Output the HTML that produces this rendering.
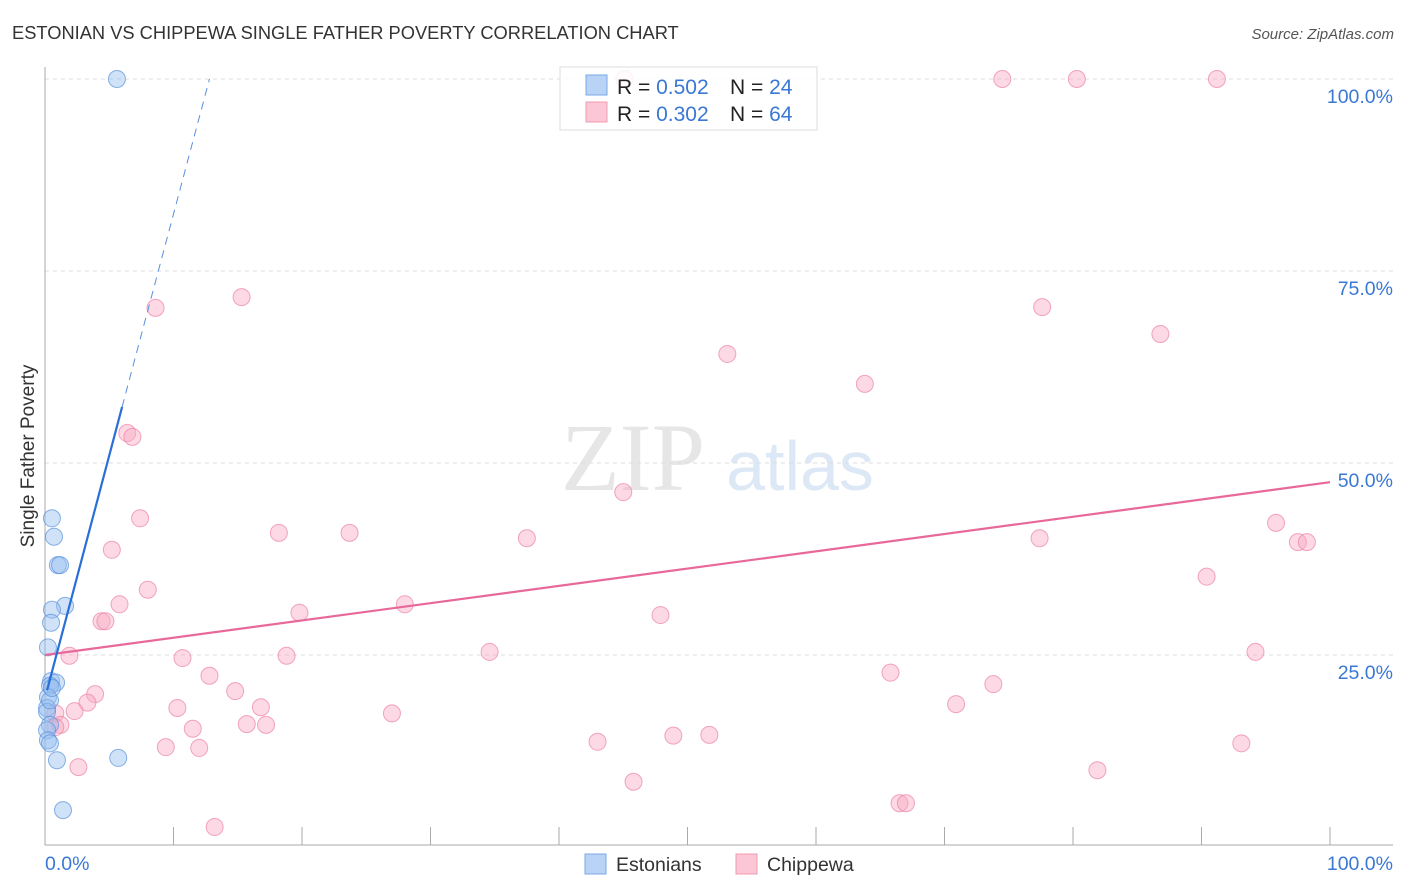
<!DOCTYPE html>
<html><head><meta charset="utf-8"><style>
body{margin:0;background:#fff;font-family:"Liberation Sans",sans-serif;}
svg{display:block}
</style></head><body>
<svg id="c" width="1406" height="892" xmlns="http://www.w3.org/2000/svg">
<text x="12" y="39" font-size="18.3" fill="#333">ESTONIAN VS CHIPPEWA SINGLE FATHER POVERTY CORRELATION CHART</text>
<text x="1394" y="39" font-size="15" fill="#555" font-style="italic" text-anchor="end">Source: ZipAtlas.com</text>
<text x="633" y="490" font-size="96" fill="#e6e6e6" text-anchor="middle" font-family="Liberation Serif,serif">ZIP</text>
<text x="800" y="490" font-size="70" fill="#dde8f6" text-anchor="middle">atlas</text>
<g id="grid"></g>
<g id="axes"></g>
<g id="pts"></g>
<g id="lines"></g>
<text transform="translate(34,456) rotate(-90)" font-size="19" fill="#333" text-anchor="middle">Single Father Poverty</text>
<g>
<rect x="560" y="67" width="257" height="63" fill="#fff" fill-opacity="0.85" stroke="#ddd"/>
<rect x="586" y="75" width="21" height="20" fill="#b8d3f5" stroke="#7aa7e6"/>
<rect x="586" y="102" width="21" height="20" fill="#fbc7d6" stroke="#f09ab3"/>
<text x="617" y="94" font-size="21" fill="#222">R = <tspan fill="#3a78d4">0.502</tspan></text>
<text x="730" y="94" font-size="21" fill="#222">N = <tspan fill="#3a78d4">24</tspan></text>
<text x="617" y="121" font-size="21" fill="#222">R = <tspan fill="#3a78d4">0.302</tspan></text>
<text x="730" y="121" font-size="21" fill="#222">N = <tspan fill="#3a78d4">64</tspan></text>
</g>
<g>
<rect x="585" y="854" width="21" height="20" fill="#b8d3f5" stroke="#7aa7e6"/>
<text x="616" y="871" font-size="19.5" fill="#333">Estonians</text>
<rect x="736" y="854" width="21" height="20" fill="#fbc7d6" stroke="#f09ab3"/>
<text x="767" y="871" font-size="19.5" fill="#333">Chippewa</text>
</g>
</svg>
<script>
const blueX=[5.6,0.54,0.7,1.0,1.17,1.56,0.54,0.47,0.23,0.47,0.86,0.39,0.23,0.16,0.16,0.39,0.16,0.23,0.39,0.93,5.7,1.4,0.39,0.54];
const blueY=[100,42.8,40.4,36.7,36.7,31.4,30.9,29.2,26.0,21.6,21.4,21.0,19.5,18.1,17.6,15.9,15.2,13.9,13.5,11.3,11.6,4.8,19.1,20.7];
const pinkX=[45.1,74.5,80.3,91.2,15.3,8.6,77.6,86.8,53.1,63.8,6.4,6.8,45.0,7.4,18.2,23.7,37.5,77.4,95.8,97.5,98.2,5.2,8.0,90.4,5.8,28.0,19.8,4.4,4.7,47.9,1.9,10.7,18.8,34.6,94.2,65.8,12.8,73.8,3.9,14.8,3.3,10.3,2.3,16.8,70.9,27.0,0.8,15.7,17.2,11.5,1.2,0.8,9.4,12.0,43.0,48.9,51.7,93.1,2.6,81.9,45.8,66.5,67.0,13.2];
const pinkY=[100,100,100,100,71.6,70.2,70.3,66.8,64.2,60.3,53.9,53.4,46.2,42.8,40.9,40.9,40.2,40.2,42.2,39.7,39.7,38.7,33.5,35.2,31.6,31.6,30.5,29.4,29.4,30.2,24.9,24.6,24.9,25.4,25.4,22.7,22.3,21.2,19.9,20.3,18.8,18.1,17.7,18.2,18.6,17.4,17.4,16.0,15.9,15.4,15.9,15.6,13.0,12.9,13.7,14.5,14.6,13.5,10.4,10.0,8.5,5.7,5.7,2.6];
const yTicks=[25,50,75,100];
const yTickLabels=["25.0%","50.0%","75.0%","100.0%"];
const xTicks=[0,10,20,30,40,50,60,70,80,90,100];
const pinkTrend=[0,25,100,47.5];
const blueTrend=[0.16,20.4,6.0,57.3,12.8,100];
const NS="http://www.w3.org/2000/svg";
const X=v=>45+v*12.85, Y=v=>847-v*7.68;
function mk(p,t,a){const e=document.createElementNS(NS,t);for(const k in a)e.setAttribute(k,a[k]);p.appendChild(e);return e;}
const grid=document.getElementById('grid'),axes=document.getElementById('axes'),pts=document.getElementById('pts'),lines=document.getElementById('lines');
yTicks.forEach((v,i)=>{
 const l=mk(grid,'line',{x1:45,x2:1393,y1:Y(v),y2:Y(v),stroke:'#ddd','stroke-dasharray':'4,4'});
 
 
 const t=mk(axes,'text',{x:1393,y:Y(v)+24,'font-size':19.5,fill:'#3a78d4','text-anchor':'end'});
 t.textContent=yTickLabels[i];
 
 
});
mk(axes,'line',{x1:45,x2:45,y1:67,y2:845,stroke:'#aaa'});
mk(axes,'line',{x1:45,x2:1393,y1:845,y2:845,stroke:'#aaa'});
xTicks.forEach(v=>{const t=mk(axes,'line',{x1:X(v),x2:X(v),y1:827,y2:845,stroke:'#aaa'});
 
 });
const xl=mk(axes,'text',{x:45,y:870,'font-size':19.5,fill:'#3a78d4'});xl.textContent='0.0%';


const xr=mk(axes,'text',{x:1393,y:870,'font-size':19.5,fill:'#3a78d4','text-anchor':'end'});xr.textContent='100.0%';


pinkX.forEach((v,i)=>{const c=mk(pts,'circle',{cx:X(v),cy:Y(pinkY[i]),r:8.5,fill:'rgba(248,170,195,0.45)',stroke:'rgba(236,130,165,0.7)'});
 
 });
blueX.forEach((v,i)=>{const c=mk(pts,'circle',{cx:X(v),cy:Y(blueY[i]),r:8.5,fill:'rgba(150,190,240,0.45)',stroke:'rgba(90,145,220,0.7)'});
 
 });
const pl=mk(lines,'line',{x1:X(pinkTrend[0]),y1:Y(pinkTrend[1]),x2:X(pinkTrend[2]),y2:Y(pinkTrend[3]),stroke:'#e8689a','stroke-width':2.2});


const bl=mk(lines,'line',{x1:X(blueTrend[0]),y1:Y(blueTrend[1]),x2:X(blueTrend[2]),y2:Y(blueTrend[3]),stroke:'#2a6fd8','stroke-width':2.2});


const bd=mk(lines,'line',{x1:X(blueTrend[2]),y1:Y(blueTrend[3]),x2:X(blueTrend[4]),y2:Y(blueTrend[5]),stroke:'#5a8fdc','stroke-width':1,'stroke-dasharray':'8,6'});


</script>
</body></html>
